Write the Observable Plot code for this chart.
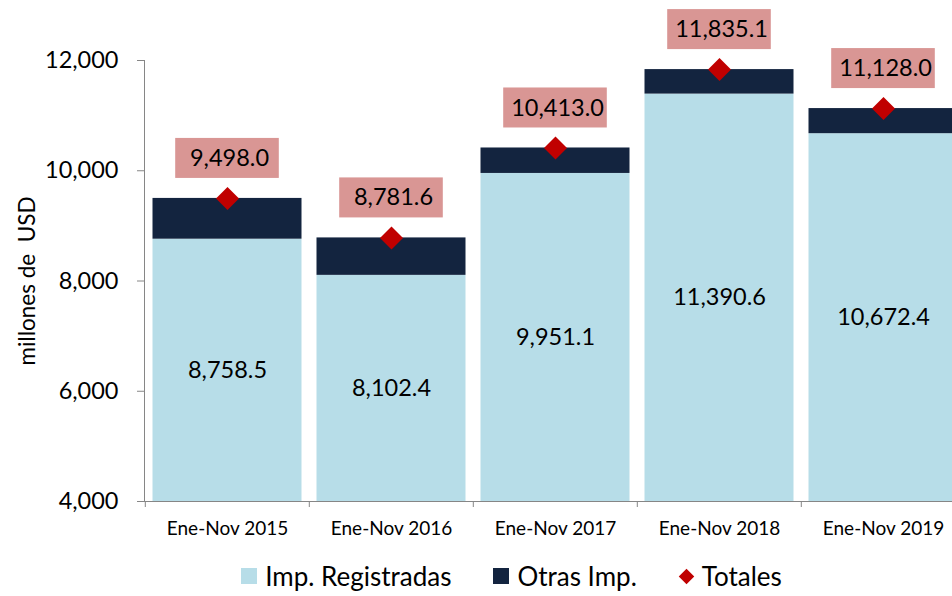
<!DOCTYPE html>
<html><head><meta charset="utf-8">
<script src="https://cdn.jsdelivr.net/npm/d3@7"></script>
<script src="https://cdn.jsdelivr.net/npm/@observablehq/plot@0.6"></script>
<style>
html,body{margin:0;padding:0;background:#fff;overflow:hidden;width:952px;height:596px;position:relative}
#chart{width:966px}
#chart svg{display:block;max-width:none !important}
.legend{position:absolute;top:554px;left:0;width:1023px;height:44px;display:flex;justify-content:center;align-items:center;gap:42px;font-family:Lato,sans-serif;font-size:26px;line-height:30px;color:#000}
.item{display:flex;align-items:center;gap:8px}
.sw{width:16px;height:16px;display:inline-block}
.dm{width:11px;height:11px;display:inline-block;transform:rotate(45deg);margin:0 2px}
</style></head><body>
<div id="chart"></div>
<div class="legend" id="legend"></div>
<script>
const categories = ["Ene-Nov 2015","Ene-Nov 2016","Ene-Nov 2017","Ene-Nov 2018","Ene-Nov 2019"];
const registradas = [8758.5, 8102.4, 9951.1, 11390.6, 10672.4];
const otras = [739.5, 679.2, 461.9, 444.5, 455.6];
const totales = [9498.0, 8781.6, 10413.0, 11835.1, 11128.0];
const yTicks = [4000, 6000, 8000, 10000, 12000];
const seriesNames = ["Imp. Registradas", "Otras Imp.", "Totales"];
const yLabel = "millones de\u00a0 USD";
const yBase = 4000;

const rows = categories.map((c, i) => ({cat: c, reg: registradas[i], otras: otras[i], total: totales[i]}));

const W = 966, H = 553, ML = 144, MT = 60, MB = 52;
const step = (W - ML) / categories.length;
const barInset = 7.5;
const boxInset = (step - 104) / 2;
const fmt = d3.format(",.1f");
const axisColor = "#868686";
const colReg = "#b7dde8", colOtras = "#13243f", colTot = "#c00000", colBox = "#d99694";

const chart = Plot.plot({
  width: W, height: H,
  marginLeft: ML, marginRight: 0, marginTop: MT, marginBottom: MB,
  style: {fontFamily: "Lato, sans-serif", background: "transparent", overflow: "visible", maxWidth: "none"},
  x: {domain: categories, padding: 0},
  y: {domain: [yBase, 12000]},
  marks: [
    Plot.barY(rows, {x: "cat", y1: () => yBase, y2: "reg", fill: colReg, insetLeft: barInset, insetRight: barInset}),
    Plot.barY(rows, {x: "cat", y1: "reg", y2: d => d.reg + d.otras, fill: colOtras, insetLeft: barInset, insetRight: barInset}),
    Plot.text(rows, {x: "cat", y: d => (yBase + d.reg) / 2, text: d => fmt(d.reg), fontSize: 23.5, fill: "#000"}),
    Plot.barY(rows, {x: "cat", y1: "total", y2: "total", insetLeft: boxInset, insetRight: boxInset, insetTop: -20, insetBottom: -20, dy: -40, fill: colBox}),
    Plot.text(rows, {x: "cat", y: "total", dy: -40, dx: 2, text: d => fmt(d.total), fontSize: 23.5, fill: "#000"}),
    Plot.dot(rows, {x: "cat", y: "total", symbol: "square", r: 9.2, rotate: 45, fill: colTot, stroke: null}),
    Plot.axisY({ticks: yTicks, tickFormat: d3.format(","), tickSize: 7, tickPadding: 19, fontSize: 23.5, stroke: axisColor, fill: "#000", label: null}),
    Plot.frame({anchor: "left", stroke: axisColor}),
    Plot.ruleY([yBase], {stroke: axisColor}),
    Plot.axisX({tickSize: 0, tickPadding: 20, fontSize: 19, fill: "#000", label: null}),
    Plot.axisX({tickSize: 6, tickFormat: () => "", dx: -step / 2, stroke: axisColor, label: null}),
    Plot.text([yLabel], {frameAnchor: "left", textAnchor: "middle", rotate: -90, dx: -117, fontSize: 22.5, fill: "#000"})
  ]
});
document.getElementById("chart").append(chart);

const legend = document.getElementById("legend");
const swatches = [
  `<span class="sw" style="background:${colReg}"></span>`,
  `<span class="sw" style="background:${colOtras}"></span>`,
  `<span class="dm" style="background:${colTot}"></span>`
];
seriesNames.forEach((n, i) => {
  const it = document.createElement("span");
  it.className = "item";
  it.innerHTML = swatches[i] + `<span>${n}</span>`;
  legend.append(it);
});
</script>
</body></html>
